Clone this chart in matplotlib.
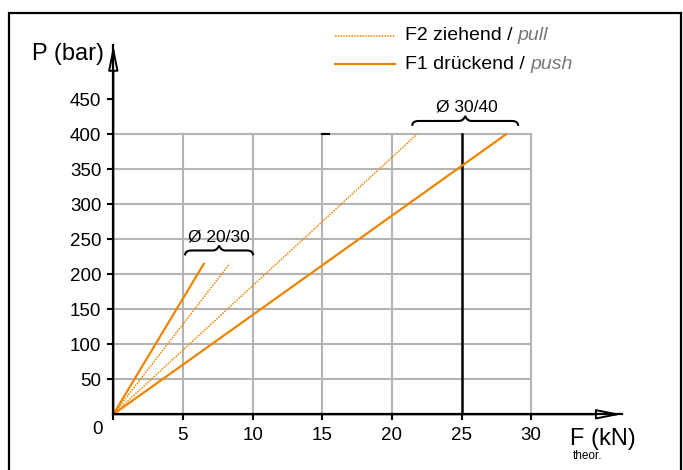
import matplotlib
matplotlib.use("Agg")
import matplotlib.pyplot as plt
from matplotlib.path import Path
from matplotlib.patches import PathPatch, Rectangle

plt.rcParams['font.family'] = ['Liberation Sans', 'DejaVu Sans']

# force F (kN) vs pressure P (bar), lines start at the origin
push_2030_f = [0, 6.5]
push_2030_p = [0, 215]
pull_2030_f = [0, 8.35]
pull_2030_p = [0, 215]
pull_3040_f = [0, 21.8]
pull_3040_p = [0, 400]
push_3040_f = [0, 28.2]
push_3040_p = [0, 400]

x_ticks = [0, 5, 10, 15, 20, 25, 30]
x_labels = ['', '5', '10', '15', '20', '25', '30']
y_ticks = [50, 100, 150, 200, 250, 300, 350, 400, 450]

orange = '#EE8500'
gray = '#b4b4b4'

fig = plt.figure(figsize=(6.83, 4.70), dpi=100)
ax = fig.add_axes([113.3 / 683, 55.7 / 470, 508.4 / 683, 369.3 / 470])
xmax, ymax = 36.5, 527.5
ax.set_xlim(0, xmax)
ax.set_ylim(0, ymax)
for s in ax.spines.values():
    s.set_visible(False)

# grid box up to 30 kN / 400 bar
for x in [5, 10, 15, 20, 30]:
    ax.plot([x, x], [0, 400], color=gray, lw=1.5, zorder=1)
for y in y_ticks[:-1]:
    ax.plot([0, 30], [y, y], color=gray, lw=1.5, zorder=1)
ax.plot([25, 25], [0, 400], color='black', lw=1.8, zorder=2)
ax.plot([15, 15.5], [400, 400], color='black', lw=1.5, zorder=2)

# axes with open arrow heads
for tip in [(xmax, 0), (0, ymax)]:
    ax.annotate('', xy=tip, xytext=(0, 0), annotation_clip=False,
                arrowprops=dict(arrowstyle='-|>,head_length=1.5,head_width=0.3',
                                fc='white', ec='black', lw=1.4,
                                shrinkA=0, shrinkB=0, mutation_scale=10), zorder=4)
ax.plot([0, xmax], [0, 0], color='black', lw=1.6, clip_on=False, zorder=5)
ax.plot([0, 0], [0, ymax], color='black', lw=1.6, clip_on=False, zorder=5)

ax.set_xticks(x_ticks, x_labels)
ax.set_yticks(y_ticks)
ax.tick_params(axis='both', direction='out', length=4.5, width=1.5, labelsize=13.5)
ax.tick_params(axis='x', pad=4.5)
ax.tick_params(axis='y', pad=4)

# lines
ax.plot(push_2030_f, push_2030_p, color=orange, lw=1.6, zorder=3)
ax.plot(pull_2030_f, pull_2030_p, color=orange, lw=1.1, ls=(0, (1, 0.8)), zorder=3)
ax.plot(pull_3040_f, pull_3040_p, color=orange, lw=1.1, ls=(0, (1, 0.8)), zorder=3)
ax.plot(push_3040_f, push_3040_p, color=orange, lw=1.6, zorder=3)


def brace(x0, x1, y, h=7, r=0.45):
    xm = (x0 + x1) / 2
    verts = [(x0, y - h), (x0, y), (x0 + r, y),
             (xm - r, y), (xm - r * 0.3, y), (xm, y + h),
             (xm + r * 0.3, y), (xm + r, y),
             (x1 - r, y), (x1, y), (x1, y - h)]
    codes = [Path.MOVETO, Path.CURVE3, Path.CURVE3,
             Path.LINETO, Path.CURVE3, Path.CURVE3,
             Path.CURVE3, Path.CURVE3,
             Path.LINETO, Path.CURVE3, Path.CURVE3]
    ax.add_patch(PathPatch(Path(verts, codes), fill=False, ec='black', lw=1.5,
                           clip_on=False, zorder=4))


brace(5.15, 10.04, 234)
ax.text(7.6, 243, 'Ø 20/30', ha='center', va='bottom', fontsize=12.5)
brace(21.46, 29.07, 419)
ax.text(25.4, 428, 'Ø 30/40', ha='center', va='bottom', fontsize=12.5)

# axis titles
ax.text(-0.7, 514, 'P (bar)', ha='right', va='center', fontsize=17)
ax.text(-1.1, -21, '0', ha='center', va='center', fontsize=13.5)
ax.text(32.8, -35.7, 'F (kN)', ha='left', va='center', fontsize=17)
ax.text(33.0, -59, 'theor.', ha='left', va='center', fontsize=8.5)

# legend
ax.plot([15.93, 20.22], [541, 541], color=orange, lw=1.1, ls=(0, (1, 0.8)), clip_on=False)
ax.plot([15.93, 20.22], [500, 500], color=orange, lw=1.6, clip_on=False)
t1 = ax.text(20.95, 541, 'F2 ziehend / ', ha='left', va='center', fontsize=14)
ax.annotate('pull', xy=(1, 0), xycoords=t1, va='bottom', ha='left',
            fontsize=14, style='italic', color='#777777')
t2 = ax.text(20.95, 500, 'F1 drückend / ', ha='left', va='center', fontsize=14)
ax.annotate('push', xy=(1, 0), xycoords=t2, va='bottom', ha='left',
            fontsize=14, style='italic', color='#777777')

# outer frame
fig.add_artist(Rectangle((0.0125, -0.1), 0.9845, 1.072, transform=fig.transFigure,
                         fill=False, ec='black', lw=1.6))

fig.savefig('out.png', dpi=100)
